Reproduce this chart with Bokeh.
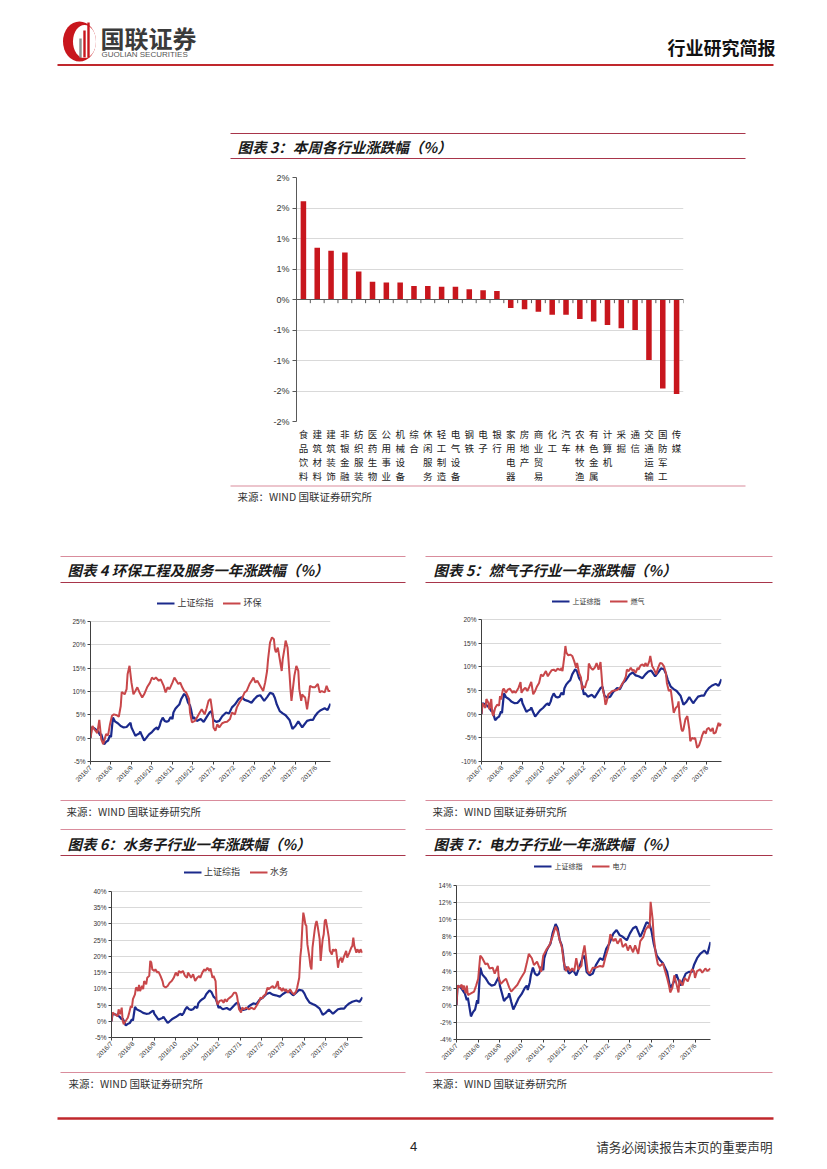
import math
from bokeh.plotting import figure
from bokeh.layouts import column, row
from bokeh.models import (Range1d, FactorRange, FixedTicker, Span, Legend, LegendItem,
                          ColumnDataSource, PrintfTickFormatter, CategoricalAxis)
from bokeh.transform import dodge
from bokeh.core.properties import value
from bokeh.embed import file_html
from bokeh.resources import INLINE

CJK = "Noto Sans CJK SC"
LAT = "Liberation Sans"
MIX = "Liberation Sans, Noto Sans CJK SC"

# ---------------- data: chart 3 (weekly change by industry, %) ----------------
industries = ["食品饮料", "建筑材料", "建筑装饰", "非银金融", "纺织服装", "医药生物", "公用事业",
              "机械设备", "综合", "休闲服务", "轻工制造", "电气设备", "钢铁", "电子", "银行",
              "家用电器", "房地产", "商业贸易", "化工", "汽车", "农林牧渔", "有色金属", "计算机",
              "采掘", "通信", "交通运输", "国防军工", "传媒"]
weekly_change = [1.61, 0.85, 0.80, 0.77, 0.46, 0.29, 0.28, 0.28, 0.22, 0.22, 0.21, 0.21, 0.17,
                 0.15, 0.14, -0.14, -0.16, -0.20, -0.25, -0.25, -0.32, -0.36, -0.42, -0.47,
                 -0.50, -0.99, -1.46, -1.55]
bar_y_ticks = [-2, -1.5, -1, -0.5, 0, 0.5, 1, 1.5, 2]
bar_y_labels = ["-2%", "-2%", "-1%", "-1%", "0%", "1%", "1%", "2%", "2%"]

# ---------------- data: one-year charts (trading day index, % change) ----------------
month_labels = ["2016/7", "2016/8", "2016/9", "2016/10", "2016/11", "2016/12",
                "2017/1", "2017/2", "2017/3", "2017/4", "2017/5", "2017/6"]
days_per_label = 21
last_day = 246

szzs_days = [0, 1, 4, 8, 10, 11, 14, 16, 18, 20, 21, 23, 25, 28, 31, 34, 37, 40, 41, 42,
             44, 46, 48, 50, 51, 53, 55, 57, 60, 63, 66, 68, 69, 71, 72, 74, 76, 78, 80, 82,
             84, 85, 87, 89, 91, 93, 96, 98, 100, 102, 103, 105, 106, 109, 113, 116, 119, 122, 124, 126,
             129, 132, 135, 139, 142, 145, 148, 152, 155, 158, 161, 165, 168, 171, 174, 178, 181, 184, 187, 189,
             191, 194, 197, 200, 204, 207, 210, 213, 217, 218, 222, 225, 228, 230, 233, 236, 240, 243, 246]
szzs_vals = [0.0, 2.3, 2.1, 1.4, 0.6, 0.9, -1.3, -0.8, -0.5, 0.6, 0.2, 4.4, 3.6, 3.2, 2.6, 2.3, 2.4, 3.1, 3.3, 2.3,
             1.4, 0.5, 0.8, 1.0, 1.4, 0.4, -0.5, 0.0, 0.8, 1.3, 2.0, 2.3, 1.8, 2.7, 3.5, 4.4, 3.7, 3.5, 3.7, 4.5,
             4.1, 5.5, 6.3, 6.8, 7.2, 8.4, 9.5, 9.0, 7.6, 7.0, 6.2, 4.1, 4.5, 3.7, 4.1, 3.5, 4.5, 5.5, 5.8, 3.9,
             3.5, 3.7, 4.7, 5.5, 5.3, 6.6, 7.2, 8.4, 8.8, 8.2, 8.0, 7.6, 8.4, 9.0, 9.2, 8.0, 8.8, 9.7, 9.5, 8.6,
             7.2, 5.8, 5.3, 4.9, 3.9, 2.0, 2.6, 3.6, 2.3, 2.6, 3.7, 3.9, 3.9, 4.7, 5.5, 6.0, 6.4, 6.0, 7.4]

hb_days = [0, 2, 4, 7, 9, 11, 13, 14, 16, 18, 20, 22, 24, 27, 29, 31, 32, 35, 37, 38,
           40, 42, 44, 46, 48, 50, 53, 55, 58, 61, 63, 65, 67, 70, 72, 75, 77, 79, 81, 84,
           86, 88, 90, 92, 94, 96, 98, 101, 102, 104, 107, 109, 112, 114, 117, 119, 121, 123, 125, 126,
           128, 130, 132, 135, 137, 140, 143, 145, 148, 150, 153, 155, 158, 160, 163, 166, 167, 169, 171, 174,
           177, 179, 181, 182, 184, 186, 188, 189, 190, 192, 194, 196, 197, 199, 200, 202, 204, 205, 206, 207,
           209, 211, 213, 214, 216, 217, 218, 220, 222, 224, 225, 228, 230, 233, 235, 237, 240, 242, 244, 246]
hb_vals = [0.0, 2.6, 1.9, 1.1, 3.9, -0.2, -1.3, -0.6, 0.9, 0.6, 3.0, 4.8, 5.1, 4.9, 4.6, 6.9, 9.9, 9.4, 10.5, 13.7,
           15.5, 11.9, 9.4, 10.1, 10.9, 9.9, 8.7, 9.4, 10.9, 11.9, 13.0, 12.6, 13.0, 12.3, 12.6, 11.2, 9.8, 10.9, 10.5, 11.9,
           13.0, 12.3, 11.6, 11.9, 10.9, 10.1, 9.8, 8.4, 5.5, 3.4, 3.7, 4.4, 5.5, 6.2, 5.1, 6.4, 8.0, 8.4, 5.5, 2.3,
           1.6, 3.0, 2.3, 3.2, 3.4, 3.5, 4.1, 5.5, 5.1, 6.6, 7.8, 8.4, 9.8, 10.1, 11.6, 12.6, 13.0, 11.9, 12.3, 11.2,
           10.1, 11.9, 14.4, 16.9, 20.5, 21.6, 21.2, 19.1, 18.4, 19.4, 16.9, 14.4, 16.9, 19.4, 20.9, 19.4, 13.7, 10.5, 8.0, 9.8,
           13.4, 15.5, 14.4, 10.5, 8.0, 9.4, 9.1, 8.7, 6.2, 9.1, 11.2, 10.9, 10.9, 11.6, 9.8, 10.1, 9.8, 11.2, 10.1, 10.1]

rq_days = [0, 1, 4, 5, 7, 8, 10, 11, 12, 14, 16, 18, 19, 20, 22, 23, 25, 27, 29, 32,
           33, 35, 38, 40, 41, 43, 45, 47, 49, 51, 53, 55, 57, 59, 61, 63, 66, 68, 70, 72,
           74, 76, 78, 81, 82, 83, 85, 86, 87, 89, 91, 93, 95, 97, 98, 100, 102, 103, 104, 106,
           108, 109, 110, 112, 114, 116, 118, 120, 122, 123, 124, 126, 127, 128, 130, 132, 134, 139, 142, 144,
           146, 148, 149, 151, 153, 155, 156, 158, 160, 161, 163, 165, 167, 168, 170, 172, 173, 175, 177, 179,
           181, 183, 185, 187, 189, 190, 192, 194, 196, 197, 199, 201, 202, 203, 205, 206, 207, 209, 211, 213,
           214, 216, 218, 219, 221, 223, 225, 226, 228, 230, 231, 233, 235, 237, 238, 240, 242, 243, 244, 246]
rq_vals = [0.0, 2.3, 1.3, 3.2, 2.4, 1.0, 3.2, 0.3, -0.4, 1.3, 2.0, 1.8, 3.8, 3.1, 5.2, 5.4, 4.5, 5.2, 5.4, 4.5,
           4.9, 4.5, 5.6, 6.8, 4.5, 5.2, 5.6, 4.9, 5.8, 6.8, 4.2, 4.9, 5.9, 6.6, 8.4, 8.0, 9.1, 8.0, 8.7, 9.3,
           9.4, 9.1, 9.6, 9.3, 9.8, 9.1, 12.3, 14.4, 13.0, 12.4, 12.6, 12.3, 11.2, 9.8, 10.8, 8.7, 7.7, 5.2, 5.9, 5.6,
           7.0, 7.3, 10.7, 9.8, 9.4, 9.8, 10.8, 9.4, 11.0, 8.4, 5.6, 3.8, 2.0, 2.4, 4.2, 4.5, 4.9, 5.1, 5.6, 6.3,
           7.0, 8.0, 9.4, 9.1, 9.8, 9.1, 9.4, 8.7, 9.8, 9.4, 10.3, 10.5, 10.1, 10.8, 10.1, 11.2, 12.3, 10.1, 9.4, 8.4,
           9.8, 10.8, 10.7, 10.1, 8.7, 6.6, 4.9, 5.2, 2.0, 0.3, 1.3, 1.7, 2.7, -0.4, -3.2, -3.6, -3.2, -1.1, -0.4, -3.2,
           -5.7, -5.0, -5.2, -5.0, -7.1, -6.6, -5.4, -4.6, -3.6, -4.1, -3.2, -2.9, -3.6, -2.9, -4.1, -3.9, -2.5, -1.8, -2.5, -2.0]

sw_days = [0, 1, 3, 6, 7, 8, 9, 10, 11, 12, 13, 15, 16, 17, 19, 20, 21, 23, 24, 25,
           26, 27, 28, 30, 31, 32, 34, 35, 37, 38, 39, 40, 42, 43, 45, 46, 48, 50, 51, 53,
           55, 57, 59, 61, 63, 65, 66, 68, 70, 72, 74, 75, 77, 78, 80, 82, 84, 86, 87, 89,
           91, 92, 94, 96, 97, 99, 100, 102, 103, 104, 106, 108, 110, 111, 113, 114, 116, 118, 120, 122,
           123, 125, 127, 128, 130, 132, 135, 137, 140, 142, 145, 146, 148, 149, 151, 153, 154, 156, 158, 159,
           161, 163, 164, 165, 167, 168, 170, 171, 173, 175, 176, 177, 179, 181, 182, 184, 185, 186, 187, 188,
           189, 190, 191, 192, 194, 195, 196, 197, 199, 200, 201, 202, 204, 205, 206, 207, 208, 209, 210, 212,
           213, 214, 216, 217, 218, 220, 221, 222, 223, 225, 226, 228, 230, 231, 233, 235, 236, 237, 238, 240,
           241, 243, 244, 246]
sw_vals = [0.0, 2.7, 2.2, 1.6, 3.7, 2.2, 2.7, 4.2, 0.1, -0.9, -0.4, 0.6, 1.1, 2.2, 4.7, 4.2, 6.8, 8.3, 10.4, 10.2,
           9.3, 11.2, 9.3, 10.9, 9.9, 12.4, 11.4, 13.4, 14.0, 18.6, 18.1, 16.0, 15.5, 16.0, 15.0, 15.3, 14.0, 12.4, 10.9, 10.4,
           10.9, 11.9, 12.4, 13.4, 15.0, 14.0, 15.5, 15.0, 15.5, 14.0, 13.4, 15.0, 14.0, 13.4, 14.5, 12.4, 13.4, 14.0, 13.4, 15.0,
           16.0, 15.5, 16.5, 15.5, 16.3, 13.4, 14.0, 12.4, 6.3, 5.2, 6.3, 6.5, 5.7, 6.8, 6.1, 6.8, 7.3, 7.8, 8.8, 8.8,
           7.8, 3.7, 2.7, 4.2, 3.7, 4.2, 3.7, 4.2, 3.7, 4.7, 6.3, 7.3, 7.1, 7.8, 8.3, 10.4, 9.9, 10.4, 10.9, 10.2,
           10.6, 12.4, 9.9, 10.4, 9.3, 10.2, 9.3, 9.9, 8.8, 9.9, 9.3, 8.8, 8.3, 9.3, 10.4, 13.4, 19.6, 22.7, 28.9, 33.5,
           31.9, 29.9, 29.4, 23.7, 19.6, 17.0, 16.0, 22.7, 27.8, 29.9, 30.9, 29.4, 25.3, 18.6, 22.2, 25.3, 26.8, 30.9, 31.4, 27.8,
           25.8, 21.7, 20.6, 22.2, 21.7, 22.2, 19.6, 16.5, 18.6, 19.6, 18.1, 20.1, 21.7, 19.6, 21.1, 22.7, 23.2, 25.8, 23.2, 21.1,
           22.2, 21.1, 22.2, 21.1]

dl_days = [0, 1, 3, 5, 6, 7, 9, 10, 11, 14, 17, 19, 21, 23, 25, 28, 30, 32, 35, 37,
           40, 41, 43, 46, 48, 51, 53, 56, 59, 62, 66, 68, 70, 73, 75, 78, 80, 82, 84, 87,
           90, 93, 96, 98, 100, 102, 104, 106, 108, 110, 112, 114, 116, 118, 121, 122, 124, 126, 127, 129,
           132, 135, 139, 142, 144, 147, 149, 152, 154, 156, 159, 161, 164, 166, 168, 171, 173, 176, 178, 181,
           183, 186, 187, 188, 190, 191, 193, 195, 197, 200, 202, 204, 206, 207, 209, 211, 213, 215, 216, 219,
           221, 224, 226, 228, 230, 231, 233, 236, 238, 241, 243, 246]
dl_vals = [0.0, 2.3, 2.1, 2.4, 1.8, 2.3, 1.4, 2.3, 1.2, 1.4, 1.6, 2.3, 3.1, 5.8, 5.5, 4.8, 4.9, 4.3, 4.4, 3.7,
           4.6, 3.1, 2.5, 2.9, 3.1, 2.1, 1.6, 2.0, 2.4, 3.1, 3.9, 4.9, 6.0, 5.5, 4.7, 5.1, 4.5, 3.9, 5.8, 6.5,
           7.0, 8.0, 9.2, 8.6, 7.6, 6.8, 5.0, 4.0, 4.5, 4.0, 4.3, 4.0, 5.5, 4.2, 4.6, 5.8, 7.0, 5.0, 4.0, 3.7,
           4.4, 4.4, 4.6, 4.5, 5.5, 6.7, 8.3, 7.5, 7.8, 7.2, 7.8, 6.8, 7.2, 6.4, 7.0, 6.2, 7.0, 6.0, 7.5, 8.0,
           8.8, 9.3, 9.0, 12.1, 10.0, 8.0, 6.0, 4.8, 4.6, 4.9, 4.0, 3.2, 2.2, 1.5, 2.0, 3.5, 2.5, 1.5, 3.0, 2.3,
           3.2, 2.8, 3.5, 4.2, 4.0, 3.2, 4.0, 4.2, 3.8, 4.3, 4.0, 4.3]

BLUE = "#1B2A8C"
RED = "#C8474A"
BAR_RED = "#C8161D"
TITLE_RULE = "#A8354A"
SOFT_RULE = "#D98C9C"
PAGE_W = 827


# ---------------- helpers ----------------
def deco(y_top, y_bottom):
    p = figure(width=PAGE_W, height=y_bottom - y_top, x_range=Range1d(0, PAGE_W),
               y_range=Range1d(y_bottom, y_top), x_axis_location=None, y_axis_location=None,
               toolbar_location=None, output_backend="svg", outline_line_color=None,
               min_border=0, min_border_left=0, min_border_right=0,
               min_border_top=0, min_border_bottom=0, frame_align=False)
    p.xgrid.grid_line_color = None
    p.ygrid.grid_line_color = None
    return p


def txt(p, x, y, s, size, color="#222222", font=CJK, style="normal", align="left"):
    p.text(x=[x], y=[y], text=[s], text_font=value(font), text_font_size=f"{size}px",
           text_color=color, text_font_style=style, text_align=align, text_baseline="middle")


def rule(p, x0, x1, y, color, w):
    p.segment(x0=[x0], y0=[y], x1=[x1], y1=[y], line_color=color, line_width=w)


def line_chart(w, h, bl, br, bb, plot_top, leg_center, ymin, ymax, ystep,
               red_days, red_vals, red_name, leg_size, tick_size):
    # the frame reaches up to the legend; the value scale ymin..ymax fills the lower part
    bt = 3
    plot_px = h - bb - plot_top
    y_top = ymax + (plot_top - bt) * (ymax - ymin) / plot_px
    p = figure(width=w, height=h, x_range=Range1d(0, last_day), y_range=Range1d(ymin, y_top),
               toolbar_location=None, output_backend="svg", outline_line_color=None,
               min_border_left=bl, min_border_right=br, min_border_top=bt, min_border_bottom=bb,
               frame_align=False)
    yt = list(range(ymin, ymax + 1, ystep))
    p.yaxis.ticker = FixedTicker(ticks=yt)
    p.yaxis.formatter = PrintfTickFormatter(format="%d%%")
    p.yaxis.bounds = (ymin, ymax)
    p.ygrid.ticker = FixedTicker(ticks=yt)
    p.ygrid.grid_line_color = "#D9D9D9"
    p.xgrid.grid_line_color = None
    xt = [i * days_per_label for i in range(len(month_labels))]
    p.xaxis.ticker = FixedTicker(ticks=xt)
    ov = {}
    for t, lab in zip(xt, month_labels):
        ov[t] = lab
        ov[str(t)] = lab
    p.xaxis.major_label_overrides = ov
    p.xaxis.major_label_orientation = math.pi / 4
    for ax in (p.xaxis, p.yaxis):
        ax.axis_line_color = "#404040"
        ax.major_tick_line_color = "#404040"
        ax.major_tick_out = 3
        ax.major_tick_in = 0
        ax.minor_tick_line_color = None
        ax.major_label_text_font = LAT
        ax.major_label_text_font_size = f"{tick_size}px"
        ax.major_label_text_color = "#333333"
        ax.major_label_standoff = 2
    n1 = min(len(szzs_days), len(szzs_vals))
    n2 = min(len(red_days), len(red_vals))
    rb = p.line(szzs_days[:n1], szzs_vals[:n1], line_color=BLUE, line_width=2.2)
    rr = p.line(red_days[:n2], red_vals[:n2], line_color=RED, line_width=2.0)
    items = [LegendItem(label="上证综指", renderers=[rb]), LegendItem(label=red_name, renderers=[rr])]
    leg = Legend(items=items, location="top_center", orientation="horizontal",
                 margin=max(0, leg_center - bt - 8),
                 label_text_font=CJK, label_text_font_size=f"{leg_size}px",
                 label_text_color="#333333", glyph_width=18, glyph_height=12,
                 label_height=12, label_standoff=3, spacing=9, padding=2,
                 border_line_color=None, background_fill_alpha=0)
    p.add_layout(leg)
    return p


# ---------------- section 1: header + chart 3 title ----------------
s1 = deco(0, 170)
s1.ellipse(x=[79], y=[41], width=[33], height=[40], fill_color=BAR_RED, line_color=None)
s1.ellipse(x=[84], y=[41], width=[23], height=[33], fill_color="white", line_color=None)
s1.vbar(x=[80, 84, 88], bottom=[57, 57, 57], top=[38, 30, 22], width=2.4,
        fill_color=["#8C8C8C", BAR_RED, BAR_RED], line_color=None)
txt(s1, 100, 37, "国联证券", 24, color="#3A3A3A", style="bold")
txt(s1, 101, 54, "GUOLIAN SECURITIES", 8, color="#555555", font=LAT)
txt(s1, 775, 46, "行业研究简报", 18, color="#111111", style="bold", align="right")
rule(s1, 57, 773, 64.5, "#C0282D", 2)
rule(s1, 230, 745, 133, TITLE_RULE, 1)
txt(s1, 237, 145.5, "图表 3：本周各行业涨跌幅（%）", 14.5, color="#1A1A1A", style="bold italic")
rule(s1, 230, 745, 158, TITLE_RULE, 1.2)

# ---------------- section 2: chart 3 ----------------
p3 = figure(width=PAGE_W, height=314, x_range=FactorRange(factors=industries),
            y_range=Range1d(-2, 2), x_axis_location=None,
            toolbar_location=None, output_backend="svg", outline_line_color=None,
            min_border_left=296, min_border_right=144, min_border_top=7, min_border_bottom=63,
            frame_align=False)
src3 = ColumnDataSource(dict(ind=industries, val=weekly_change,
                             t0=[0.0] * len(industries), t1=[-0.06] * len(industries)))
p3.vbar(x="ind", top="val", width=0.4, source=src3, fill_color=BAR_RED, line_color=None)
p3.add_layout(Span(location=0, dimension="width", line_color="#595959", line_width=1))
p3.segment(x0=dodge("ind", 0.5, range=p3.x_range), y0="t0",
           x1=dodge("ind", 0.5, range=p3.x_range), y1="t1", source=src3,
           line_color="#595959", line_width=1)
p3.yaxis.ticker = FixedTicker(ticks=bar_y_ticks)
yov = {}
for t, lab in zip(bar_y_ticks, bar_y_labels):
    yov[t] = lab
    yov[str(t)] = lab
p3.yaxis.major_label_overrides = yov
p3.yaxis.axis_line_color = "#595959"
p3.yaxis.major_tick_line_color = "#595959"
p3.yaxis.major_tick_out = 4
p3.yaxis.major_tick_in = 0
p3.yaxis.minor_tick_line_color = None
p3.yaxis.major_label_text_font = LAT
p3.yaxis.major_label_text_font_size = "9px"
p3.yaxis.major_label_text_color = "#333333"
p3.yaxis.major_label_standoff = 3
p3.ygrid.ticker = FixedTicker(ticks=bar_y_ticks)
p3.ygrid.grid_line_color = "#D9D9D9"
p3.xgrid.grid_line_color = None

# industry names written vertically: one categorical axis per character row
ZW = "\u200b"
extra = {}
for k in range(4):
    extra[f"row{k}"] = FactorRange(factors=[(name[k] if k < len(name) else "\u3000") + ZW * i
                                            for i, name in enumerate(industries)])
p3.extra_x_ranges = extra
for k in range(4):
    ax = CategoricalAxis(x_range_name=f"row{k}")
    ax.axis_line_color = None
    ax.major_tick_line_color = None
    ax.major_tick_out = 0
    ax.major_tick_in = 0
    ax.minor_tick_line_color = None
    ax.major_label_text_font = MIX
    ax.major_label_text_font_size = "9.5px"
    ax.major_label_text_color = "#222222"
    ax.major_label_standoff = 7 if k == 0 else 0
    p3.add_layout(ax, "below")

# ---------------- section 3: chart 3 source + chart 4/5 titles ----------------
s3 = deco(484, 584)
rule(s3, 230, 745, 485.5, SOFT_RULE, 1.2)
txt(s3, 237, 495.5, "来源：WIND  国联证券研究所", 10.5, color="#333333")
rule(s3, 60, 405, 556, SOFT_RULE, 1.2)
rule(s3, 425, 772, 556, SOFT_RULE, 1.2)
txt(s3, 67, 568.5, "图表 4 环保工程及服务一年涨跌幅（%）", 14.5, color="#1A1A1A", style="bold italic")
txt(s3, 433, 568.5, "图表 5：燃气子行业一年涨跌幅（%）", 14.5, color="#1A1A1A", style="bold italic")
rule(s3, 60, 405, 582, TITLE_RULE, 1.2)
rule(s3, 425, 772, 582, TITLE_RULE, 1.2)

# ---------------- section 4: charts 4 and 5 ----------------
p4 = line_chart(420, 211, 90, 90, 34, 37, 20, -5, 25, 5, hb_days, hb_vals, "环保", 9, 6.5)
p5 = line_chart(407, 211, 61, 106, 34, 35, 19, -10, 20, 5, rq_days, rq_vals, "燃气", 7, 6.5)

# ---------------- section 5: sources + chart 6/7 titles ----------------
s5 = deco(795, 856)
rule(s5, 60, 405, 800, SOFT_RULE, 1.2)
rule(s5, 425, 772, 800, SOFT_RULE, 1.2)
txt(s5, 66, 811, "来源：WIND  国联证券研究所", 10.5, color="#333333")
txt(s5, 432, 811, "来源：WIND  国联证券研究所", 10.5, color="#333333")
rule(s5, 60, 405, 829, SOFT_RULE, 1.2)
rule(s5, 425, 772, 829, SOFT_RULE, 1.2)
txt(s5, 67, 842.5, "图表 6：水务子行业一年涨跌幅（%）", 14.5, color="#1A1A1A", style="bold italic")
txt(s5, 433, 842.5, "图表 7：电力子行业一年涨跌幅（%）", 14.5, color="#1A1A1A", style="bold italic")
rule(s5, 60, 405, 855, TITLE_RULE, 1.2)
rule(s5, 425, 772, 855, TITLE_RULE, 1.2)

# ---------------- section 6: charts 6 and 7 ----------------
p6 = line_chart(420, 214, 111, 58, 33, 35, 17, -5, 40, 5, sw_days, sw_vals, "水务", 9, 6.5)
p7 = line_chart(407, 214, 36, 117, 31, 29, 12, -4, 14, 2, dl_days, dl_vals, "电力", 7, 6.5)

# ---------------- section 7: sources + footer ----------------
s7 = deco(1070, 1169)
rule(s7, 60, 405, 1072, SOFT_RULE, 1.2)
rule(s7, 425, 772, 1072, SOFT_RULE, 1.2)
txt(s7, 68, 1083, "来源：WIND  国联证券研究所", 10.5, color="#333333")
txt(s7, 432, 1083, "来源：WIND  国联证券研究所", 10.5, color="#333333")
rule(s7, 57, 773, 1118, "#C0282D", 2.5)
txt(s7, 413, 1146, "4", 13, color="#222222", font=LAT, align="center")
txt(s7, 772, 1146, "请务必阅读报告末页的重要声明", 12.6, color="#333333", align="right")

layout = column(s1, p3, s3, row(p4, p5), s5, row(p6, p7), s7)
open("out.html", "w").write(file_html(layout, INLINE, title="行业研究简报"))
